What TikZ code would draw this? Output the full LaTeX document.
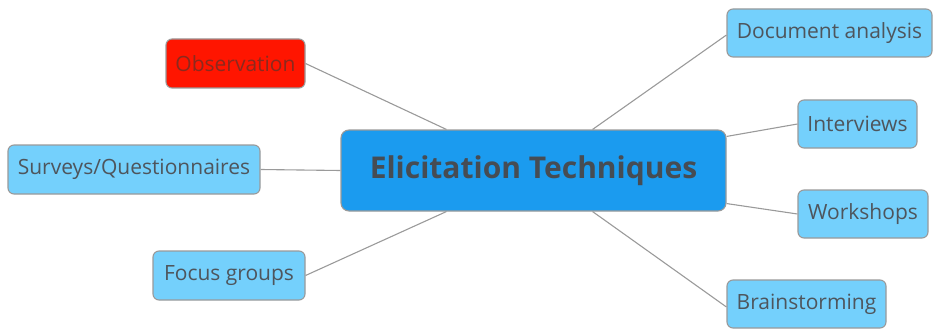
\documentclass[tikz,border=0pt]{standalone}
\usepackage{fontspec}
\setmainfont{Open Sans}
\definecolor{leafblue}{HTML}{74D0FC}
\definecolor{mainblue}{HTML}{1B9BEF}
\definecolor{alertred}{HTML}{FF1500}
\definecolor{redtext}{HTML}{8A2A1E}
\definecolor{textgray}{HTML}{4E555C}
\definecolor{edgegray}{HTML}{9A9A9A}

\begin{document}
\begin{tikzpicture}[x=1pt,y=-1pt]
\tikzstyle{every node}=[draw=edgegray,line width=1.1pt,rounded corners=6pt,text=textgray,inner sep=2pt];
\tikzstyle{topic}=[fill=leafblue,font=\fontsize{21}{24}\selectfont,minimum height=48pt];
\tikzstyle{central}=[fill=mainblue,rounded corners=8pt,font=\fontsize{30}{35}\selectfont\bfseries,text=textgray!90!black];
\tikzstyle{link}=[draw=edgegray,line width=1.1pt];
\useasboundingbox (0,0) rectangle (938,329);
% central topic
\node[central,minimum width=385pt,minimum height=81pt] (elicit) at (533.5,170.5) {Elicitation Techniques};
% left branch
\node[topic,fill=alertred,minimum width=139pt,minimum height=49pt,text=redtext] (obs) at (235.5,63.5) {Observation};
\node[topic,minimum width=252pt,minimum height=49pt] (surv) at (134,169.5) {Surveys/Questionnaires};
\node[topic,minimum width=152pt,minimum height=49pt] (focus) at (229,275.5) {Focus groups};
% right branch
\node[topic,minimum width=205pt] (doc) at (829.5,33) {Document analysis};
\node[topic,minimum width=119pt] (intv) at (857.5,124) {Interviews};
\node[topic,minimum width=130pt] (work) at (863,214) {Workshops};
\node[topic,minimum width=159pt] (brain) at (806.5,304) {Brainstorming};
% connectors
\draw[link] (obs.east) -- ([xshift=106pt]elicit.north west);
\draw[link] (surv.east) -- (elicit.west);
\draw[link] (focus.east) -- ([xshift=106pt]elicit.south west);
\draw[link] ([xshift=-134pt]elicit.north east) -- ([yshift=-2pt]doc.west);
\draw[link] ([yshift=-7pt]elicit.north east) -- (intv.west);
\draw[link] ([yshift=8pt]elicit.south east) -- (work.west);
\draw[link] ([xshift=-134pt]elicit.south east) -- ([yshift=-3pt]brain.west);
\end{tikzpicture}
\end{document}
